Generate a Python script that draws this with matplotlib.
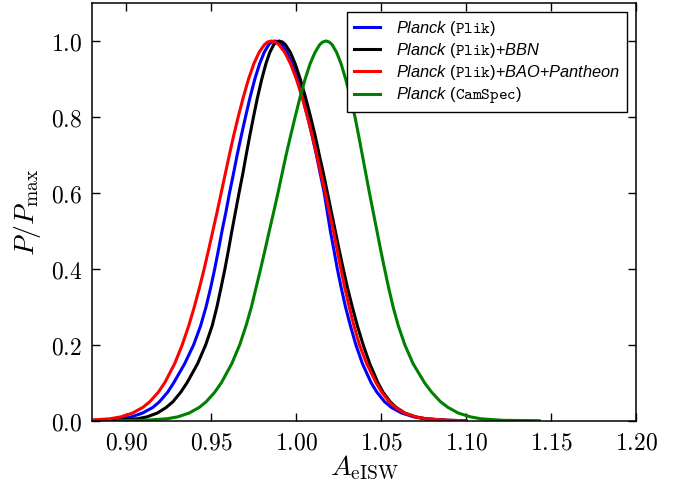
import matplotlib
matplotlib.use('Agg')
from matplotlib import pyplot as plt
from matplotlib.ticker import FuncFormatter
from matplotlib.font_manager import FontProperties

# ######### Data (A_eISW, P/P_max) #########
# each curve: x positions where it crosses the listed P/P_max levels, left flank then right flank

levels = [0.0, 0.001, 0.005, 0.01, 0.02, 0.035, 0.05, 0.075, 0.1, 0.15, 0.2, 0.25, 0.3,
          0.35, 0.4, 0.45, 0.5, 0.55, 0.6, 0.65, 0.7, 0.75, 0.8, 0.85, 0.9, 0.94, 0.97,
          0.99, 0.997, 1.0,
          0.997, 0.99, 0.97, 0.94, 0.9, 0.85, 0.8, 0.75, 0.7, 0.65, 0.6, 0.55, 0.5,
          0.45, 0.4, 0.35, 0.3, 0.25, 0.2, 0.15, 0.1, 0.075, 0.05, 0.035, 0.02, 0.01,
          0.005, 0.001, 0.0]

plik_x = [0.875, 0.8842, 0.8970, 0.9031, 0.9097, 0.9158, 0.9197, 0.9245, 0.9281, 0.9345,
          0.9398, 0.9439, 0.9471, 0.9498, 0.9522, 0.9544, 0.9565, 0.9588, 0.9609, 0.9632,
          0.9654, 0.9678, 0.9703, 0.9729, 0.9758, 0.9786, 0.9813, 0.9839, 0.9856, 0.9875,
          0.9897, 0.9916, 0.9947, 0.9977, 1.0008, 1.0040, 1.0069, 1.0095, 1.0120, 1.0143,
          1.0166, 1.0184, 1.0202, 1.0223, 1.0243, 1.0266, 1.0291, 1.0320, 1.0352, 1.0391,
          1.0442, 1.0476, 1.0521, 1.0561, 1.0622, 1.0694, 1.0760, 1.0897, 1.100]

bbn_x = [0.880, 0.8948, 0.9067, 0.9123, 0.9184, 0.9237, 0.9276, 0.9322, 0.9359, 0.9421,
         0.9469, 0.9507, 0.9535, 0.9559, 0.9582, 0.9603, 0.9623, 0.9644, 0.9665, 0.9687,
         0.9707, 0.9728, 0.9750, 0.9773, 0.9799, 0.9823, 0.9846, 0.9869, 0.9883, 0.9900,
         0.9921, 0.9938, 0.9967, 0.9995, 1.0025, 1.0057, 1.0086, 1.0113, 1.0137, 1.0162,
         1.0185, 1.0208, 1.0231, 1.0254, 1.0278, 1.0303, 1.0331, 1.0361, 1.0395, 1.0434,
         1.0482, 1.0512, 1.0554, 1.0589, 1.0641, 1.0704, 1.0763, 1.0885, 1.100]

bao_x = [0.872, 0.8770, 0.8905, 0.8969, 0.9038, 0.9099, 0.9140, 0.9190, 0.9228, 0.9286,
         0.9331, 0.9369, 0.9402, 0.9432, 0.9460, 0.9486, 0.9511, 0.9536, 0.9560, 0.9584,
         0.9608, 0.9633, 0.9660, 0.9689, 0.9721, 0.9752, 0.9783, 0.9814, 0.9832, 0.9855,
         0.9880, 0.9900, 0.9934, 0.9968, 1.0002, 1.0037, 1.0067, 1.0096, 1.0122, 1.0147,
         1.0172, 1.0196, 1.0220, 1.0242, 1.0264, 1.0287, 1.0313, 1.0341, 1.0373, 1.0416,
         1.0471, 1.0504, 1.0548, 1.0585, 1.0638, 1.0705, 1.0766, 1.0896, 1.100]

camspec_x = [0.895, 0.9106, 0.9240, 0.9303, 0.9371, 0.9431, 0.9472, 0.9522, 0.9561, 0.9622,
             0.9669, 0.9706, 0.9738, 0.9765, 0.9792, 0.9818, 0.9843, 0.9869, 0.9894, 0.9918,
             0.9942, 0.9968, 0.9995, 1.0023, 1.0054, 1.0083, 1.0112, 1.0139, 1.0156, 1.0177,
             1.0196, 1.0213, 1.0239, 1.0265, 1.0292, 1.0321, 1.0347, 1.0369, 1.0390, 1.0411,
             1.0432, 1.0454, 1.0476, 1.0498, 1.0521, 1.0545, 1.0571, 1.0602, 1.0640, 1.0689,
             1.0756, 1.0798, 1.0850, 1.0894, 1.0955, 1.1027, 1.1088, 1.1218, 1.143]

labels = [r'$\mathit{Planck}$ ($\mathtt{Plik}$)',
          r'$\mathit{Planck}$ ($\mathtt{Plik}$)+$\mathit{BBN}$',
          r'$\mathit{Planck}$ ($\mathtt{Plik}$)+$\mathit{BAO}$+$\mathit{Pantheon}$',
          r'$\mathit{Planck}$ ($\mathtt{CamSpec}$)']
colors = ['blue', 'black', 'red', 'green']

######### Fonts #########
plt.rcParams['mathtext.fontset'] = 'cm'
plt.rcParams['mathtext.it'] = 'Liberation Sans:italic'
plt.rcParams['mathtext.rm'] = 'Liberation Sans'
plt.rcParams['mathtext.tt'] = 'cmtt10'

######### Visualization #########
fig = plt.figure(figsize=(6.84, 4.91), dpi=100)
ax = fig.add_axes([0.1345, 0.1432, 0.7953, 0.8507])

for xs, c, lab in zip([plik_x, bbn_x, bao_x, camspec_x], colors, labels):
    ax.plot(xs, levels, color=c, lw=2.2, label=lab)

ax.set_xlim(0.88, 1.20)
ax.set_ylim(0.0, 1.1)
ax.set_xticks([0.90, 0.95, 1.00, 1.05, 1.10, 1.15, 1.20])
ax.set_yticks([0.0, 0.2, 0.4, 0.6, 0.8, 1.0])
ax.xaxis.set_major_formatter(FuncFormatter(lambda v, _: '${:.2f}$'.format(v)))
ax.yaxis.set_major_formatter(FuncFormatter(lambda v, _: '${:.1f}$'.format(v)))
ax.tick_params(direction='in', top=True, right=True, length=6, width=1,
               labelsize=17, pad=7)
for s in ax.spines.values():
    s.set_linewidth(1.1)

ax.set_xlabel(r'$A_{\rm eISW}$', fontsize=20, labelpad=0)
ax.set_ylabel(r'$P/P_{\rm max}$', fontsize=20, labelpad=6)

leg_font = FontProperties(family='Liberation Sans', size=11.8, math_fontfamily='custom')
leg = ax.legend(loc='upper right', prop=leg_font, fancybox=False, framealpha=1,
                edgecolor='black', handlelength=1.6, labelspacing=0.2,
                borderaxespad=0.55, handletextpad=1.0, borderpad=0.4)
leg.get_frame().set_linewidth(1.0)

fig.savefig('out.png', dpi=100)
